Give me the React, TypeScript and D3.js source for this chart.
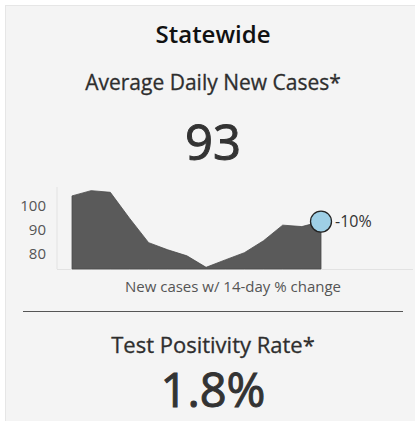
import { useEffect, useRef } from 'react';
import * as d3 from 'd3';

// average daily new cases, last 14 points
const dayIndex = [0, 1, 2, 3, 4, 5, 6, 7, 8, 9, 10, 11, 12, 13];
const newCases = [104.2, 106.4, 105.7, 94.9, 84.7, 81.7, 79.2, 74.4, 77.5, 80.5, 85.5, 92.0, 91.4, 93.5];
const yTicks = [80, 90, 100];
const currentCases = '93';
const pctChange = '-10%';
const positivity = '1.8%';

function App() {
  const svgRef = useRef<SVGSVGElement | null>(null);
  const width = 415;
  const height = 421;
  const cx = 213;
  const chart = { left: 72, right: 321, top: 182, bottom: 269, axisX: 57 };
  const font = '"Open Sans", Lato, sans-serif';

  useEffect(() => {
    const svg = d3.select(svgRef.current);
    svg.selectAll('*').remove();

    svg
      .append('rect')
      .attr('x', 5.5)
      .attr('y', 5.5)
      .attr('width', width - 5)
      .attr('height', height - 5)
      .attr('fill', '#f4f4f4')
      .attr('stroke', '#e6e6e6');

    const text = (x: number, y: number, s: string, size: number, color: string, weight = 500, bold = 0) =>
      svg
        .append('text')
        .attr('x', x)
        .attr('y', y)
        .attr('text-anchor', 'middle')
        .attr('font-family', font)
        .attr('font-size', size)
        .attr('font-weight', weight)
        .attr('fill', color)
        .attr('stroke', bold ? color : 'none')
        .attr('stroke-width', bold)
        .text(s);

    text(cx, 43, 'Statewide', 24, '#111', 600);
    text(cx, 90, 'Average Daily New Cases*', 21, '#2e2e2e', 500, 0.3);
    text(cx, 160, currentCases, 49, '#333', 400, 1);

    const xScale = d3
      .scalePoint<number>()
      .domain(dayIndex)
      .range([chart.left, chart.right]);

    const yScale = d3
      .scaleLinear()
      .domain([73.7, 110])
      .range([chart.bottom, chart.top]);

    // light axis lines
    svg
      .append('line')
      .attr('x1', chart.axisX)
      .attr('x2', chart.axisX)
      .attr('y1', 187)
      .attr('y2', chart.bottom)
      .attr('stroke', '#e2e2e2');
    svg
      .append('line')
      .attr('x1', chart.axisX)
      .attr('x2', 413)
      .attr('y1', chart.bottom + 0.5)
      .attr('y2', chart.bottom + 0.5)
      .attr('stroke', '#e2e2e2');

    svg
      .append('g')
      .selectAll('text')
      .data(yTicks)
      .enter()
      .append('text')
      .attr('x', 46)
      .attr('y', (d) => yScale(d))
      .attr('dy', '0.35em')
      .attr('text-anchor', 'end')
      .attr('font-family', font)
      .attr('font-size', 15)
      .attr('fill', '#555')
      .text((d) => d);

    const area = d3
      .area<number>()
      .x((_, i) => xScale(dayIndex[i]) as number)
      .y0(chart.bottom)
      .y1((d) => yScale(d));

    svg
      .append('path')
      .datum(newCases)
      .attr('d', area)
      .attr('fill', '#5a5a5a')
      .attr('stroke', '#4a4a4a')
      .attr('stroke-width', 0.8);

    const last = newCases.length - 1;
    svg
      .append('circle')
      .attr('cx', xScale(dayIndex[last]) as number)
      .attr('cy', yScale(newCases[last]))
      .attr('r', 10.5)
      .attr('fill', '#9ecfe6')
      .attr('stroke', '#222')
      .attr('stroke-width', 1.3);

    svg
      .append('text')
      .attr('x', (xScale(dayIndex[last]) as number) + 14)
      .attr('y', yScale(newCases[last]))
      .attr('dy', '0.35em')
      .attr('font-family', font)
      .attr('font-size', 16)
      .attr('fill', '#333')
      .text(pctChange);

    text(233, 292, 'New cases w/ 14-day % change', 15, '#555', 400);

    svg
      .append('line')
      .attr('x1', 23)
      .attr('x2', 403)
      .attr('y1', 311.5)
      .attr('y2', 311.5)
      .attr('stroke', '#555');

    text(cx, 353, 'Test Positivity Rate*', 22, '#2e2e2e', 500, 0.3);
    text(cx, 407, positivity, 47, '#333', 400, 1);
  }, []);

  return (
    <svg
      ref={svgRef}
      width={width}
      height={height}
      style={{ position: 'absolute', left: 0, top: 0, background: '#fff' }}
    />
  );
}

export default App;
